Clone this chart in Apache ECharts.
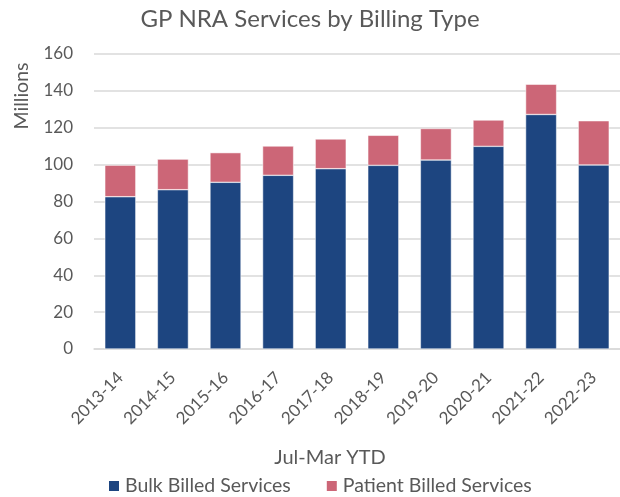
<!DOCTYPE html>
<html>
<head>
<meta charset="utf-8">
<script src="https://cdn.jsdelivr.net/npm/echarts@6/dist/echarts.min.js"></script>
<style>
  body { margin: 0; background: #fff; }
  #chart { width: 620px; height: 497px; }
</style>
</head>
<body>
<div id="chart"></div>
<script>
var years = ["2013-14", "2014-15", "2015-16", "2016-17", "2017-18", "2018-19", "2019-20", "2020-21", "2021-22", "2022-23"];
var bulkBilled = [82.6, 86.4, 90.4, 94.2, 97.8, 99.6, 102.5, 109.9, 127.2, 99.8];
var patientBilled = [17.1, 16.6, 16.1, 15.9, 16.1, 16.3, 17.1, 14.3, 16.4, 24.0];

var textColor = "#595959";
var font = "Lato";

var chart = echarts.init(document.getElementById("chart"));
chart.setOption({
  animation: false,
  textStyle: { fontFamily: font, color: textColor },
  title: {
    text: "GP NRA Services by Billing Type",
    left: "center",
    top: 2,
    textStyle: { fontFamily: font, fontSize: 24, fontWeight: "normal", color: textColor }
  },
  legend: {
    bottom: -4,
    left: 102,
    itemWidth: 12,
    itemHeight: 12,
    itemGap: 34,
    icon: "rect",
    textStyle: { fontFamily: font, fontSize: 19.5, color: textColor },
    data: ["Bulk Billed Services", "Patient Billed Services"]
  },
  // "Millions" sits near the top of the value axis, not at its middle
  graphic: [{
    type: "text",
    x: 22,
    y: 96,
    rotation: Math.PI / 2,
    style: {
      text: "Millions",
      fontFamily: font,
      fontSize: 19.5,
      fill: textColor,
      align: "center",
      verticalAlign: "middle"
    }
  }],
  grid: { left: 94, right: -7, top: 54, bottom: 148 },
  xAxis: {
    type: "category",
    data: years,
    name: "Jul-Mar YTD",
    nameLocation: "middle",
    nameGap: 99,
    nameTextStyle: { fontFamily: font, fontSize: 20, color: textColor, padding: [0, 54, 0, 0] },
    axisLine: { lineStyle: { color: "#d9d9d9", width: 1.5 } },
    axisTick: { show: false },
    axisLabel: { rotate: 45, fontSize: 17, color: textColor, fontFamily: font, margin: 26 }
  },
  yAxis: {
    type: "value",
    min: 0,
    max: 160,
    interval: 20,
    axisLine: { show: false },
    axisTick: { show: false },
    axisLabel: { fontSize: 17, color: textColor, fontFamily: font, margin: 21 },
    splitLine: { lineStyle: { color: "#d9d9d9", width: 1.5 } }
  },
  series: [
    {
      name: "Bulk Billed Services",
      type: "bar",
      stack: "total",
      barWidth: "59%",
      itemStyle: { color: "#1d4580", borderColor: "#ffffff", borderWidth: 0.5 },
      data: bulkBilled
    },
    {
      name: "Patient Billed Services",
      type: "bar",
      stack: "total",
      barWidth: "59%",
      itemStyle: { color: "#cc6677", borderColor: "#ffffff", borderWidth: 0.5 },
      data: patientBilled
    }
  ]
});
</script>
</body>
</html>
